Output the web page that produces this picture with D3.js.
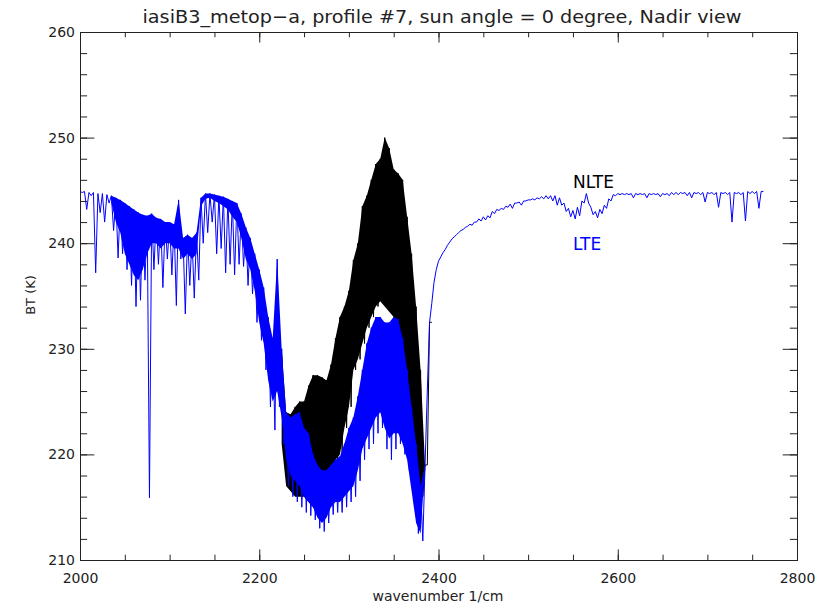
<!DOCTYPE html>
<html>
<head>
<meta charset="utf-8">
<script src="https://cdn.jsdelivr.net/npm/d3@7/dist/d3.min.js"></script>
<style>
  body { margin: 0; background: #fff; }
  text { font-family: "DejaVu Sans", "Liberation Sans", sans-serif; fill: #222; }
</style>
</head>
<body>
<svg id="chart" width="817" height="605"></svg>
<script>
// ---------------- data ----------------
const titleText = "iasiB3_metop\u2212a, profile #7, sun angle = 0 degree, Nadir view";
const xLabel = "wavenumber 1/cm";
const yLabel = "BT (K)";

// spectral sampling grid (cm-1): each sample holds the local maximum and minimum
const lteStart = 2000, sampleStep = 5;
const lteHigh = [
 244.9,244.9,244.8,244.8,244.7,244.7,244.6,244.5,244.3,244.1,
 243.8,243.5,243.2,242.9,242.7,242.6,242.8,242.4,242.3,242.0,
 242.0,241.8,244.1,240.5,240.8,240.5,241.0,244.3,244.7,244.7,
 244.6,244.5,244.4,244.2,244.0,243.8,242.8,241.5,240.5,239.0,
 237.5,235.8,233.0,231.0,238.5,230.0,224.0,223.5,223.8,224.0,
 222.5,222.0,220.0,219.0,218.5,218.5,219.0,219.5,219.8,221.0,
 222.5,223.5,225.5,228.0,230.5,232.0,233.0,233.0,232.5,232.5,
 233.0,232.8,231.0,228.0,224.5,221.0,217.0,219.0,232.5,236.3,
 238.3,239.1,239.8,240.4,240.8,241.2,241.5,241.8,242.0,242.3,
 242.5,242.6,243.0,243.2,243.3,243.5,243.7,243.8,243.9,244.0,
 244.1,244.2,244.3,244.4,244.5,244.5,244.5,244.3,243.8,243.3,
 243.1,243.4,244.0,244.7,243.4,243.0,243.2,243.6,244.2,244.6,
 244.7,244.7,244.7,244.7,244.7,244.7,244.7,244.7,244.7,244.7,
 244.7,244.7,244.8,244.8,244.8,244.8,244.8,244.8,244.8,244.8,
 244.8,244.8,244.8,244.8,244.8,244.8,244.8,244.8,244.8,244.9,
 244.9,244.9,244.9
];
const lteLow = [
 244.8,243.2,244.5,237.2,242.9,242.0,243.8,241.2,238.6,239.0,
 237.5,236.0,234.0,234.6,236.5,215.9,237.5,238.0,235.8,238.5,
 237.0,234.1,238.5,233.3,236.0,234.8,236.5,240.0,241.0,242.0,
 239.0,239.5,237.2,238.0,237.0,238.0,237.8,236.0,235.2,232.5,
 230.8,228.0,224.5,222.3,224.5,221.0,217.0,216.0,215.5,215.0,
 214.5,214.2,213.8,213.0,212.7,213.5,214.3,214.5,214.5,215.0,
 215.5,216.0,217.5,219.5,220.5,221.0,222.0,222.5,220.5,219.5,
 220.5,221.0,220.0,218.5,215.5,212.5,211.8,226.0,234.3,237.5,
 238.7,239.4,240.1,240.6,241.0,241.3,241.6,241.7,242.0,242.1,
 242.2,242.4,242.8,243.1,243.2,243.4,243.3,243.8,243.6,244.0,
 244.1,244.1,244.2,244.2,244.2,244.0,243.6,243.6,243.0,242.5,
 242.3,242.6,243.8,243.8,242.7,242.4,242.8,243.3,244.0,244.5,
 244.6,244.6,244.6,244.3,244.6,244.6,244.3,244.6,244.6,244.4,
 244.6,244.5,244.6,244.6,244.7,244.5,244.3,244.7,244.6,243.9,
 244.7,244.6,243.4,244.7,244.6,242.0,244.7,244.6,242.1,244.7,
 244.7,243.3,244.9
];
// lower edge of the densely filled (unresolved lines) part of the LTE band, 2035..2385
const lteCoreStart = 2035;
const lteCore = [
 243.8,242.0,241.0,239.0,238.0,237.0,236.5,237.5,239.0,240.0,
 240.0,239.5,240.0,240.0,239.5,239.5,238.5,239.0,238.5,239.0,
 243.5,244.2,244.3,244.0,243.8,243.5,243.2,242.5,242.0,240.5,
 238.5,237.5,235.5,232.5,230.5,227.0,225.0,226.0,223.5,219.5,
 218.0,217.5,217.0,216.0,215.5,215.0,214.0,213.5,214.0,215.0,
 215.5,215.5,216.0,216.5,217.0,218.5,220.5,221.5,222.5,223.5,
 224.0,222.5,221.5,222.0,222.0,221.0,219.5,216.5,213.5,212.5,
 219.0
];

// NLTE differs from LTE only inside the 4.3 micron band
const nlteStart = 2225;
const nlteHigh = [
 230.0,224.0,223.8,224.5,225.0,225.0,226.5,227.5,227.5,227.3,
 227.0,228.5,231.0,233.0,234.0,235.5,238.4,240.0,243.5,244.5,
 246.0,247.5,248.0,250.0,249.0,247.0,246.6,246.0,242.5,239.0,
 234.0,228.0,219.0,232.5
];
const nlteLow = [
 221.0,217.0,216.5,216.0,216.0,216.0,215.5,215.0,214.5,214.5,
 215.0,217.0,219.5,220.0,222.5,224.5,228.0,229.0,230.5,232.0,
 233.0,234.0,234.5,234.0,233.5,233.0,232.0,230.0,227.0,224.0,
 220.0,216.0,219.0,232.5
];

const xMajorTicks = [2000, 2200, 2400, 2600, 2800];
const xMinorTicks = d3.range(2000, 2801, 50);
const yMajorTicks = [210, 220, 230, 240, 250, 260];
const yMinorTicks = d3.range(210, 260.1, 2);

const seriesLabels = [
  { name: "NLTE", color: "#000000", wn: 2550, bt: 245.2 },
  { name: "LTE",  color: "#0000ff", wn: 2550, bt: 239.4 }
];

// ---------------- layout ----------------
const svg = d3.select("#chart");
const pL = 80, pR = 797, pT = 32, pB = 560;
const x = d3.scaleLinear().domain([2000, 2800]).range([pL, pR]);
const y = d3.scaleLinear().domain([210, 260]).range([pB, pT]);

const xTickLen = 0.02 * (pB - pT);   // IDL-style tick lengths
const yTickLen = 0.02 * (pR - pL);

// spectrum: each sample drawn as max at grid point then min at half step
function spectrumPoints(start, hi, lo) {
  const pts = [];
  hi.forEach((h, i) => {
    const wn = start + i * sampleStep;
    pts.push([wn, h]);
    pts.push([wn + sampleStep / 2, lo[i]]);
  });
  return pts;
}
const line = d3.line().x(d => x(d[0])).y(d => y(d[1]));
const band = d3.area().x(d => x(d.wn)).y0(d => y(d.lo)).y1(d => y(d.hi));

const nlteBand = nlteHigh.map((h, i) => ({ wn: nlteStart + i * sampleStep, hi: h, lo: Math.min(h, nlteLow[i]) }));
const coreOffset = (lteCoreStart - lteStart) / sampleStep;
const lteBand = lteCore.map((c, i) => ({
  wn: lteCoreStart + i * sampleStep,
  hi: lteHigh[coreOffset + i], lo: c
}));

const plot = svg.append("g");
plot.append("path").attr("d", band(nlteBand)).attr("fill", "#000");
plot.append("path")
  .attr("d", line(spectrumPoints(nlteStart, nlteHigh, nlteLow)))
  .attr("fill", "none").attr("stroke", "#000").attr("stroke-width", 1);
plot.append("path").attr("d", band(lteBand)).attr("fill", "#0000ff");
plot.append("path")
  .attr("d", line(spectrumPoints(lteStart, lteHigh, lteLow)))
  .attr("fill", "none").attr("stroke", "#0000ff").attr("stroke-width", 1);

// ---------------- axes ----------------
const axisColor = "#222";
function styleAxis(g) {
  g.select(".domain").remove();
  g.selectAll(".tick line").attr("stroke", axisColor);
  g.selectAll(".tick text").style("font-size", "14px").attr("fill", "#222")
    .style("font-family", "'DejaVu Sans', sans-serif");
}
svg.append("g").attr("transform", `translate(0,${pB})`)
  .call(d3.axisBottom(x).tickValues(xMajorTicks).tickSize(-xTickLen).tickPadding(13).tickFormat(d3.format("d")))
  .call(styleAxis);
svg.append("g").attr("transform", `translate(0,${pB})`)
  .call(d3.axisBottom(x).tickValues(xMinorTicks).tickSize(-xTickLen / 2).tickFormat(""))
  .call(styleAxis);
svg.append("g").attr("transform", `translate(0,${pT})`)
  .call(d3.axisTop(x).tickValues(xMajorTicks).tickSize(-xTickLen).tickFormat(""))
  .call(styleAxis);
svg.append("g").attr("transform", `translate(0,${pT})`)
  .call(d3.axisTop(x).tickValues(xMinorTicks).tickSize(-xTickLen / 2).tickFormat(""))
  .call(styleAxis);
svg.append("g").attr("transform", `translate(${pL},0)`)
  .call(d3.axisLeft(y).tickValues(yMajorTicks).tickSize(-yTickLen).tickPadding(5).tickFormat(d3.format("d")))
  .call(styleAxis);
svg.append("g").attr("transform", `translate(${pL},0)`)
  .call(d3.axisLeft(y).tickValues(yMinorTicks).tickSize(-yTickLen / 2).tickFormat(""))
  .call(styleAxis);
svg.append("g").attr("transform", `translate(${pR},0)`)
  .call(d3.axisRight(y).tickValues(yMajorTicks).tickSize(-yTickLen).tickFormat(""))
  .call(styleAxis);
svg.append("g").attr("transform", `translate(${pR},0)`)
  .call(d3.axisRight(y).tickValues(yMinorTicks).tickSize(-yTickLen / 2).tickFormat(""))
  .call(styleAxis);

svg.append("rect")
  .attr("x", pL + 0.5).attr("y", pT + 0.5)
  .attr("width", pR - pL).attr("height", pB - pT)
  .attr("fill", "none").attr("stroke", axisColor).attr("stroke-width", 1);

// ---------------- text ----------------
svg.append("text").attr("x", 442).attr("y", 23)
  .attr("text-anchor", "middle").style("font-size", "18px")
  .attr("textLength", 599).attr("lengthAdjust", "spacingAndGlyphs")
  .text(titleText);
svg.append("text").attr("x", 438).attr("y", 601)
  .attr("text-anchor", "middle").style("font-size", "14px")
  .text(xLabel);
svg.append("text").attr("transform", "translate(35,295) rotate(-90)")
  .attr("text-anchor", "middle").style("font-size", "13px")
  .text(yLabel);

svg.selectAll(".series-label").data(seriesLabels).enter().append("text")
  .attr("class", "series-label")
  .attr("x", d => x(d.wn)).attr("y", d => y(d.bt))
  .style("font-size", "17px").style("fill", d => d.color)
  .text(d => d.name);
</script>
</body>
</html>
